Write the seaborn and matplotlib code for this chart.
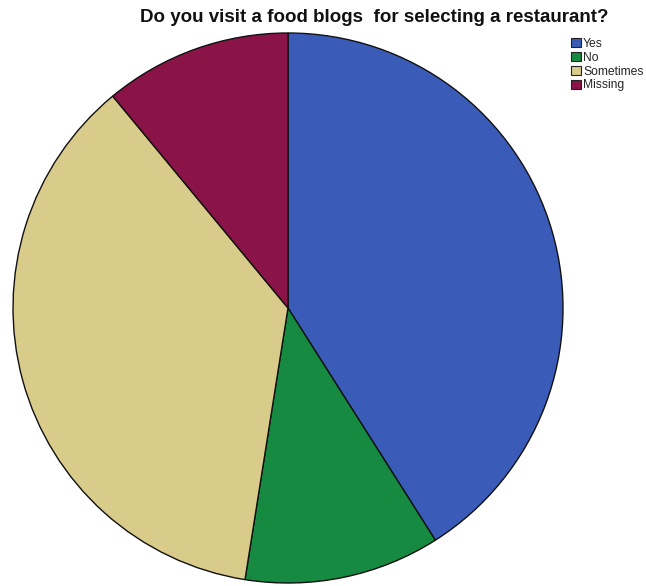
import matplotlib
matplotlib.use("Agg")
import matplotlib.pyplot as plt
from matplotlib.patches import Patch
import seaborn as sns

# Survey responses (percent of respondents)
categories = ["Yes", "No", "Sometimes", "Missing"]
shares = [41.0, 11.5, 36.5, 11.0]
title = "Do you visit a food blogs  for selecting a restaurant?"

sns.set_theme(style="white")
plt.rcParams["font.family"] = ["Liberation Sans", "DejaVu Sans"]

palette = sns.color_palette(["#3A5CB8", "#168A40", "#D9CB8A", "#8A1348"])

W, H = 646, 586
fig = plt.figure(figsize=(W / 100, H / 100), dpi=100)
ax = fig.add_axes([0, 0, 1, 1])

ax.pie(
    shares,
    colors=palette,
    startangle=90,
    counterclock=False,
    center=(288, H - 308),
    radius=275,
    wedgeprops=dict(edgecolor="#111111", linewidth=1.0),
)
ax.set_xlim(0, W)
ax.set_ylim(0, H)
ax.set_aspect("equal")
ax.axis("off")

fig.text(374 / W, 1 - 18 / H, title, ha="center", va="center",
         fontsize=13.5, fontweight="bold", color="#111111")

handles = [Patch(facecolor=c, edgecolor="#222222", linewidth=0.8) for c in palette]
fig.legend(
    handles, categories,
    loc="upper left", bbox_to_anchor=(565 / W, 1 - 32 / H),
    frameon=False, fontsize=8.7,
    handlelength=0.8, handleheight=0.8,
    handletextpad=0.2, labelspacing=0.15, borderpad=0.0,
)

fig.savefig("out.png", dpi=100)
